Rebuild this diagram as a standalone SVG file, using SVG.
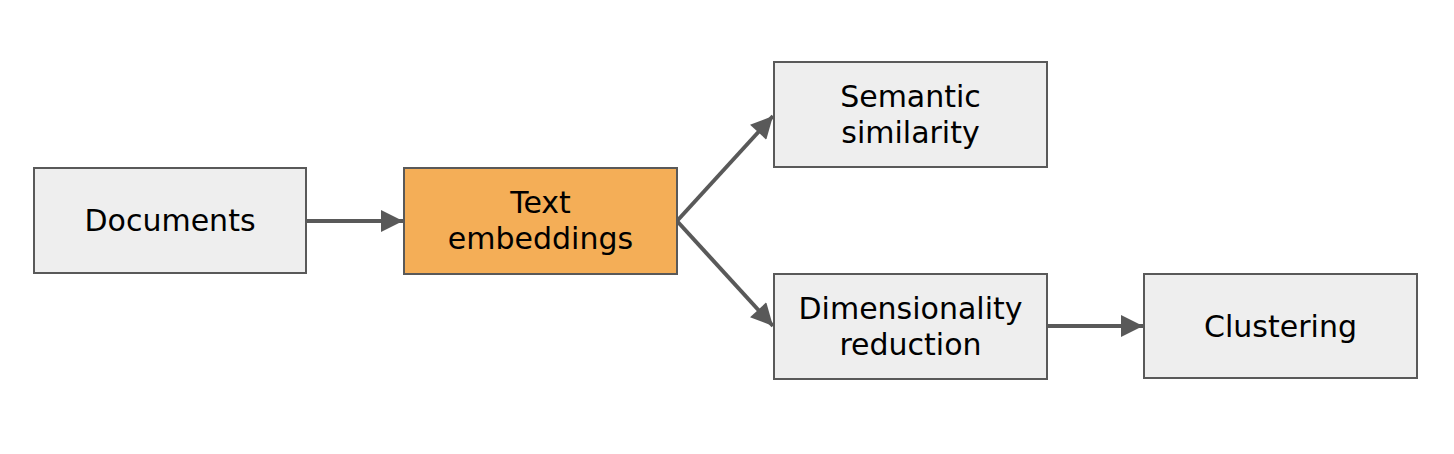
<svg xmlns="http://www.w3.org/2000/svg" width="1454" height="454" viewBox="0 0 1454 454">
<style>
.box{fill:#eeeeee;stroke:#595959;stroke-width:2}
.hl{fill:#f4ae57;stroke:#595959;stroke-width:2}
.lbl{font-family:"DejaVu Sans",sans-serif;font-size:30px;fill:#000;text-anchor:middle}
.conn{stroke:#595959;stroke-width:4;fill:none}
</style>
<defs>
<marker id="ah" viewBox="0 0 10 10" refX="10" refY="5" markerWidth="7" markerHeight="5.5" markerUnits="strokeWidth" orient="auto">
<path d="M0,0 L10,5 L0,10 Z" fill="#595959"/>
</marker>
</defs>
<rect width="1454" height="454" fill="#ffffff"/>
<g id="connectors">
<line class="conn" x1="306" y1="221" x2="403" y2="221" marker-end="url(#ah)"/>
<line class="conn" x1="677" y1="221" x2="773" y2="116" marker-end="url(#ah)"/>
<line class="conn" x1="677" y1="221" x2="773" y2="326" marker-end="url(#ah)"/>
<line class="conn" x1="1047" y1="326" x2="1143" y2="326" marker-end="url(#ah)"/>
</g>
<g id="documents">
<rect class="box" x="34" y="168" width="272" height="105"/>
<text class="lbl" x="170" y="231">Documents</text>
</g>
<g id="text-embeddings">
<rect class="hl" x="404" y="168" width="273" height="106"/>
<text class="lbl" x="540.5" y="213">Text</text>
<text class="lbl" x="540.5" y="249">embeddings</text>
</g>
<g id="semantic-similarity">
<rect class="box" x="774" y="62" width="273" height="105"/>
<text class="lbl" x="910.5" y="107">Semantic</text>
<text class="lbl" x="910.5" y="143">similarity</text>
</g>
<g id="dimensionality-reduction">
<rect class="box" x="774" y="274" width="273" height="105"/>
<text class="lbl" x="910.5" y="319">Dimensionality</text>
<text class="lbl" x="910.5" y="355">reduction</text>
</g>
<g id="clustering">
<rect class="box" x="1144" y="274" width="273" height="104"/>
<text class="lbl" x="1280.5" y="337">Clustering</text>
</g>
</svg>
